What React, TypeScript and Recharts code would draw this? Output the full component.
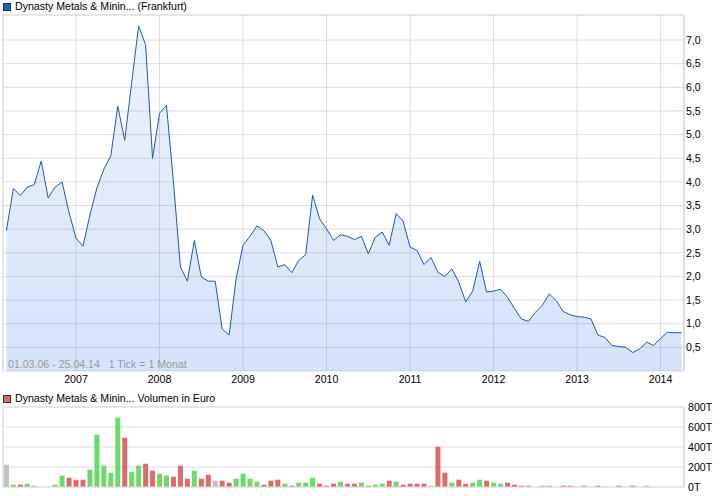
import React from "react";
import {
  AreaChart,
  Area,
  BarChart,
  Bar,
  Cell,
  XAxis,
  YAxis,
  CartesianGrid,
  ReferenceLine,
} from "recharts";

// Monthly closing prices (EUR), 03/2006 .. 04/2014
const PRICE: number[] = [
  2.97, 3.86, 3.71, 3.89, 3.94, 4.44, 3.66, 3.89, 4.0, 3.35,
  2.81, 2.64, 3.3, 3.87, 4.27, 4.55, 5.6, 4.88, 6.1, 7.3,
  6.9, 4.5, 5.45, 5.62, 4.0, 2.2, 1.9, 2.76, 1.99, 1.9,
  1.9, 0.89, 0.76, 1.95, 2.66, 2.85, 3.07, 2.97, 2.76, 2.2,
  2.25, 2.08, 2.34, 2.46, 3.72, 3.22, 3.01, 2.76, 2.88, 2.85,
  2.78, 2.85, 2.48, 2.83, 2.94, 2.66, 3.33, 3.17, 2.62, 2.55,
  2.25, 2.4, 2.09, 2.0, 2.16, 1.88, 1.46, 1.69, 2.32, 1.67,
  1.69, 1.73, 1.56, 1.32, 1.1, 1.05, 1.24, 1.39, 1.63, 1.49,
  1.26, 1.19, 1.15, 1.14, 1.1, 0.76, 0.71, 0.54, 0.52, 0.5,
  0.39, 0.47, 0.61, 0.54, 0.69, 0.82, 0.81, 0.81,
];

// Monthly volume in thousand euro (T)
const VOLUME: number[] = [
  223, 23, 23, 33, 13, 0, 0, 23, 113, 93,
  73, 73, 173, 523, 213, 143, 693, 493, 153, 213,
  233, 163, 133, 113, 103, 213, 83, 163, 83, 123,
  63, 63, 43, 83, 133, 83, 53, 23, 63, 73,
  33, 13, 43, 43, 93, 33, 13, 33, 53, 33,
  33, 43, 13, 23, 33, 63, 53, 23, 33, 33,
  33, 13, 403, 143, 43, 73, 33, 43, 73, 63,
  43, 33, 43, 23, 13, 13, 0, 13, 13, 0,
  13, 13, 0, 13, 0, 13, 0, 0, 13, 0,
  13, 0, 13, 0, 0, 0, 0, 0,
];

const START_YEAR = 2006;
const START_MONTH = 3; // March
const PRICE_TICKS = [0.5, 1, 1.5, 2, 2.5, 3, 3.5, 4, 4.5, 5, 5.5, 6, 6.5, 7];
const VOLUME_TICKS = [0, 200, 400, 600, 800];

const PRICE_TITLE = "Dynasty Metals & Minin... (Frankfurt)";
const VOLUME_TITLE = "Dynasty Metals & Minin... Volumen in Euro";
const RANGE_NOTE = "01.03.06 - 25.04.14   1 Tick = 1 Monat";

const priceData = PRICE.map((p, i) => ({ idx: i, price: p }));
const volumeData = VOLUME.map((v, i) => ({
  idx: i,
  vol: v,
  dir: i === 0 || PRICE[i] === PRICE[i - 1] ? 0 : PRICE[i] > PRICE[i - 1] ? 1 : -1,
}));

const yearTicks: number[] = [];
for (let i = 0; i < PRICE.length; i++) {
  if ((START_MONTH - 1 + i) % 12 === 0) yearTicks.push(i);
}
const yearOf = (i: number) => START_YEAR + Math.floor((START_MONTH - 1 + i) / 12);

const X_MIN = -0.49;
const X_MAX = 97.36;
const Y_MAX = 7.53;

const FONT = "'Liberation Sans', Arial, sans-serif";
const GRID = "#dddddd";
const LINE = "#1e58c6";
const GREEN = "#6cd96c";
const RED = "#dc6b6b";
const GRAY = "#c0c0c0";

export default function App() {
  return (
    <div
      style={{
        position: "absolute",
        left: 0,
        top: 0,
        width: 726,
        height: 496,
        background: "#fff",
        fontFamily: FONT,
        overflow: "hidden",
      }}
    >
      {/* price legend */}
      <div
        style={{
          position: "absolute",
          left: 3,
          top: 3,
          width: 6,
          height: 6,
          background: "#2160c4",
          border: "1px solid #13337a",
        }}
      />
      <div
        style={{
          position: "absolute",
          left: 15,
          top: 0,
          fontSize: 10.6,
          lineHeight: "12px",
          color: "#000",
          whiteSpace: "pre",
        }}
      >
        {PRICE_TITLE}
      </div>

      <div style={{ position: "absolute", left: 0, top: 0 }}>
        <AreaChart
          width={726}
          height={392}
          data={priceData}
          margin={{ top: 15, right: 0, bottom: 0, left: 3 }}
        >
          <defs>
            <linearGradient id="priceFill" x1="0" y1="0" x2="0" y2="1">
              <stop offset="0%" stopColor="rgb(60,120,225)" stopOpacity={0.09} />
              <stop offset="100%" stopColor="rgb(60,120,225)" stopOpacity={0.21} />
            </linearGradient>
          </defs>
          <CartesianGrid stroke={GRID} strokeWidth={1} />
          <XAxis
            dataKey="idx"
            type="number"
            domain={[X_MIN, X_MAX]}
            allowDataOverflow
            ticks={yearTicks}
            tickFormatter={(v: number) => String(yearOf(v))}
            tickLine={false}
            axisLine={false}
            tickSize={4}
            tickMargin={0}
            height={21}
            interval={0}
            tick={{ fill: "#000", fontSize: 10.6, fontFamily: FONT }}
          />
          <YAxis
            orientation="right"
            type="number"
            domain={[0, Y_MAX]}
            allowDataOverflow
            ticks={PRICE_TICKS}
            tickFormatter={(v: number) => v.toFixed(1).replace(".", ",")}
            width={42}
            tickLine={false}
            tickSize={2}
            tickMargin={0}
            axisLine={{ stroke: "#d0d0d0" }}
            interval={0}
            tick={{ fill: "#000", fontSize: 10.6, fontFamily: FONT }}
          />
          <ReferenceLine y={Y_MAX} stroke={GRID} />
          <ReferenceLine x={X_MIN} stroke={GRID} />
          <Area
            type="linear"
            dataKey="price"
            stroke={LINE}
            strokeWidth={1}
            fill="url(#priceFill)"
            fillOpacity={1}
            dot={false}
            activeDot={false}
            isAnimationActive={false}
          />
        </AreaChart>
      </div>

      <div
        style={{
          position: "absolute",
          left: 8,
          top: 358,
          fontSize: 10.6,
          lineHeight: "12px",
          color: "#9a9a9a",
          whiteSpace: "pre",
        }}
      >
        {RANGE_NOTE}
      </div>

      {/* volume legend */}
      <div
        style={{
          position: "absolute",
          left: 3,
          top: 395,
          width: 6,
          height: 6,
          background: RED,
          border: "1px solid #333",
        }}
      />
      <div
        style={{
          position: "absolute",
          left: 15,
          top: 392,
          fontSize: 10.6,
          lineHeight: "12px",
          color: "#000",
          whiteSpace: "pre",
        }}
      >
        {VOLUME_TITLE}
      </div>

      <div style={{ position: "absolute", left: 0, top: 392 }}>
        <BarChart
          width={726}
          height={104}
          data={volumeData}
          margin={{ top: 15, right: 0, bottom: 0, left: 3 }}
        >
          <CartesianGrid stroke={GRID} strokeWidth={1} />
          <XAxis
            dataKey="idx"
            type="number"
            domain={[X_MIN, X_MAX]}
            allowDataOverflow
            ticks={yearTicks}
            tick={false}
            tickLine={false}
            axisLine={{ stroke: GRID }}
            height={9}
            interval={0}
          />
          <YAxis
            orientation="right"
            type="number"
            domain={[0, 800]}
            ticks={VOLUME_TICKS}
            tickFormatter={(v: number) => `${v}T`}
            width={42}
            tickLine={false}
            tickSize={4}
            tickMargin={0}
            axisLine={{ stroke: "#d0d0d0" }}
            interval={0}
            tick={{ fill: "#000", fontSize: 10.6, fontFamily: FONT }}
          />
          <ReferenceLine y={800} stroke={GRID} />
          <ReferenceLine x={X_MIN} stroke={GRID} />
          <Bar dataKey="vol" barSize={5} isAnimationActive={false}>
            {volumeData.map((d) => (
              <Cell key={d.idx} fill={d.dir > 0 ? GREEN : d.dir < 0 ? RED : GRAY} />
            ))}
          </Bar>
        </BarChart>
      </div>
    </div>
  );
}
